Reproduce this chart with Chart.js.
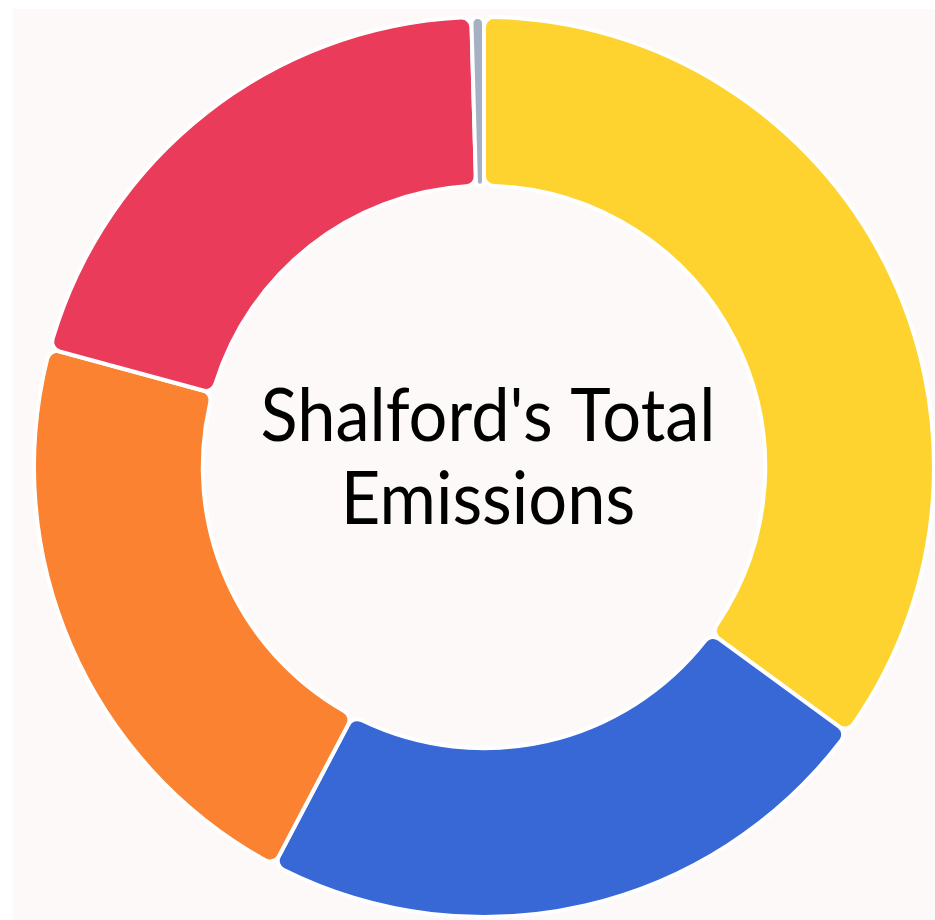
<!DOCTYPE html>
<html>
<head>
<meta charset="utf-8">
<script src="https://cdn.jsdelivr.net/npm/chart.js@4"></script>
<style>
  html, body { margin: 0; padding: 0; background: #ffffff; overflow: hidden; }
  .panel {
    position: absolute; left: 13px; top: 9px; width: 922px; height: 911px;
    background: #fcf9f8;
  }
</style>
</head>
<body>
<div class="panel"><canvas id="chart"></canvas></div>
<script>
const categories = ['Transport', 'Domestic', 'Industry', 'Commercial', 'Other'];
const shares = [35.05, 22.67, 21.51, 20.32, 0.45];
const colours = ['#fed330', '#3867d6', '#fa8231', '#eb3b5a', '#a5b1c2'];
const centreLines = ["Shalford's Total", 'Emissions'];

// title in the hole of the doughnut
const centreText = {
  id: 'centreText',
  afterDraw(chart) {
    const arc = chart.getDatasetMeta(0).data[0];
    const ctx = chart.ctx;
    ctx.save();
    ctx.font = '73px Lato, "Open Sans", sans-serif';
    ctx.fillStyle = '#000000';
    ctx.textAlign = 'center';
    ctx.textBaseline = 'alphabetic';
    const w = ctx.measureText(centreLines[0]).width;
    const sx = 455 / w;
    ctx.translate(arc.x + 4, 0);
    ctx.scale(sx, 1);
    ctx.fillText(centreLines[0], 0, arc.y - 26);
    ctx.fillText(centreLines[1], 0, arc.y + 57);
    ctx.restore();
  }
};

new Chart(document.getElementById('chart'), {
  type: 'doughnut',
  data: {
    labels: categories,
    datasets: [{
      data: shares,
      backgroundColor: colours,
      borderColor: '#ffffff',
      borderWidth: 4,
      borderRadius: 10
    }]
  },
  options: {
    responsive: true,
    maintainAspectRatio: false,
    animation: false,
    radius: 450,
    cutout: '62.5%',
    layout: { padding: { left: 20, top: 5, right: 0, bottom: 0 } },
    plugins: {
      legend: { display: false },
      tooltip: { enabled: false }
    }
  },
  plugins: [centreText]
});
</script>
</body>
</html>
